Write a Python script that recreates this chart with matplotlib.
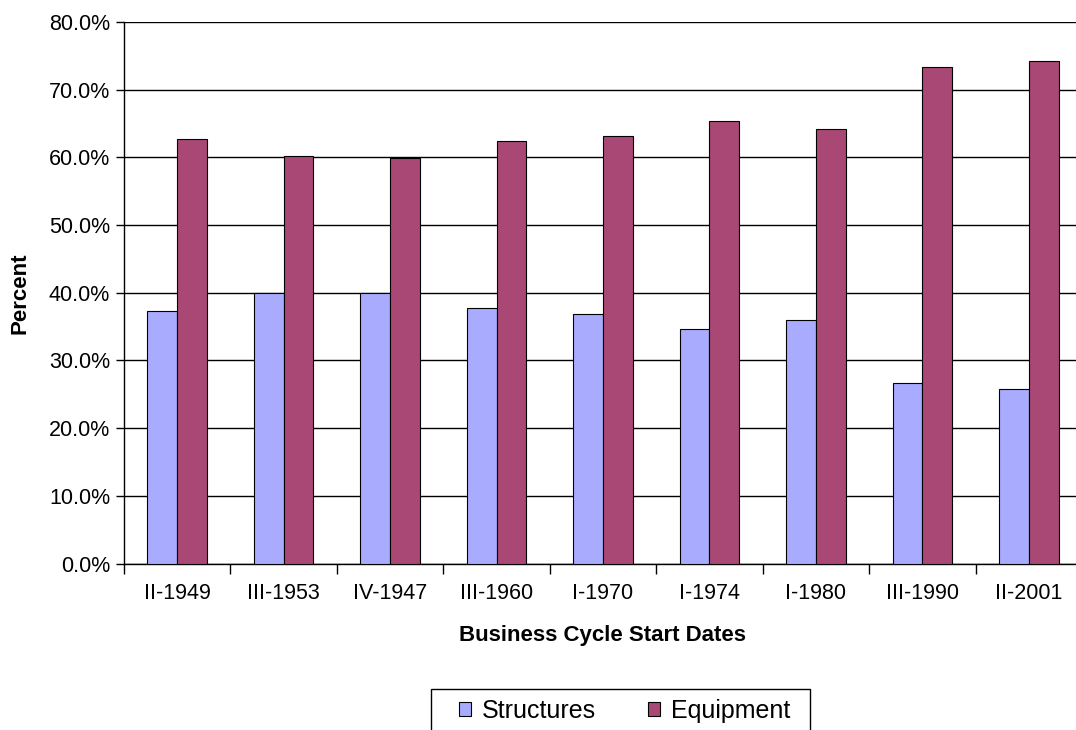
import matplotlib
matplotlib.use('Agg')
import matplotlib.pyplot as plt
import numpy as np
from matplotlib.patches import Rectangle
from matplotlib.ticker import FuncFormatter, FixedLocator

# Data (shares of investment, percent)
CATEGORIES = ['II-1949', 'III-1953', 'IV-1947', 'III-1960', 'I-1970',
              'I-1974', 'I-1980', 'III-1990', 'II-2001']
STRUCTURES = [37.3, 40.0, 40.0, 37.7, 36.9, 34.6, 36.0, 26.7, 25.8]
EQUIPMENT = [62.7, 60.2, 59.9, 62.4, 63.2, 65.4, 64.2, 73.3, 74.2]

STRUCT_COLOR = '#A9ABFE'
EQUIP_COLOR = '#A94874'

plt.rcParams['font.family'] = ['Liberation Sans', 'DejaVu Sans']

W, H = 1076, 730
fig = plt.figure(figsize=(W / 100, H / 100), dpi=100)
ax = fig.add_axes([124 / W, 1 - 563.5 / H, (1082 - 124) / W, (563.5 - 22) / H])

x = np.arange(len(CATEGORIES))
bw = 0.28
ax.bar(x - bw, STRUCTURES, width=bw, align='edge', color=STRUCT_COLOR,
       edgecolor='black', linewidth=0.8, label='Structures', zorder=3)
ax.bar(x, EQUIPMENT, width=bw, align='edge', color=EQUIP_COLOR,
       edgecolor='black', linewidth=0.8, label='Equipment', zorder=3)

ax.set_xlim(-0.5, len(CATEGORIES) - 0.5)
ax.set_ylim(0, 80)
ax.set_yticks(np.arange(0, 81, 10))
ax.yaxis.set_major_formatter(FuncFormatter(lambda v, p: f'{v:.1f}%'))
ax.yaxis.grid(True, color='black', linewidth=1)
ax.set_axisbelow(True)

ax.set_xticks(x)
ax.set_xticklabels(CATEGORIES, fontsize=15.5)
ax.tick_params(axis='x', which='major', length=0, pad=14)
ax.xaxis.set_minor_locator(FixedLocator(np.arange(-0.5, len(CATEGORIES), 1.0)))
ax.tick_params(axis='x', which='minor', length=7, width=1, color='black')
ax.tick_params(axis='y', length=6, width=1, labelsize=15.5, pad=4)

for s in ['top', 'right']:
    ax.spines[s].set_visible(False)
for s in ['left', 'bottom']:
    ax.spines[s].set_color('black')
    ax.spines[s].set_linewidth(1)

fig.text(20 / W, 1 - 293 / H, 'Percent', rotation=90, fontsize=16,
         fontweight='bold', ha='center', va='center')
fig.text(603 / W, 1 - 636 / H, 'Business Cycle Start Dates', fontsize=16,
         fontweight='bold', ha='center', va='center')

# legend box (cut off at the bottom edge like the original)
fig.patches.append(Rectangle((431 / W, 1 - 745 / H), (810 - 431) / W, (745 - 689) / H,
                             transform=fig.transFigure, facecolor='white',
                             edgecolor='black', linewidth=1))
leg = fig.legend(loc='center left', bbox_to_anchor=(459 / W, 1 - 711 / H),
                 ncol=2, frameon=False, prop={'size': 18},
                 handlelength=0.48, handleheight=0.48, handletextpad=0.44,
                 columnspacing=2.08, borderaxespad=0, borderpad=0)

fig.savefig('out.png', dpi=100)
